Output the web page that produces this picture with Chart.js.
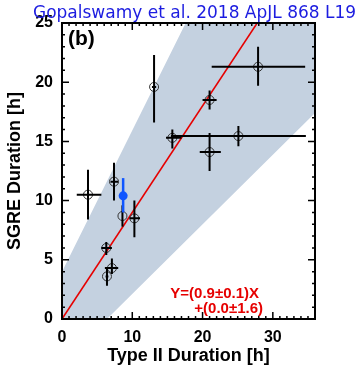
<!DOCTYPE html>
<html>
<head>
<meta charset="utf-8">
<script src="https://cdn.jsdelivr.net/npm/chart.js@4/dist/chart.umd.min.js"></script>
<style>
  html, body { margin: 0; padding: 0; background: #fff; }
  #wrap { width: 361px; height: 367px; position: relative; }
</style>
</head>
<body>
<div id="wrap"><canvas id="grafica"></canvas></div>
<script>
// data (hours)
const typeII = [3.7, 7.4, 8.6, 10.3, 6.3, 7.1, 6.4, 13.1, 15.7, 25.1, 21.0, 21.0, 27.9];
const sgre   = [10.5, 11.6, 8.7, 8.5, 6.0, 4.3, 3.6, 19.6, 15.3, 15.45, 18.5, 14.1, 21.3];
const typeIILow  = [2.1, 6.9, 8.6, 9.6, 5.6, 6.1, 6.2, 12.8, 14.8, 15.5, 20.0, 19.6, 21.3];
const typeIIHigh = [5.6, 8.0, 8.6, 11.1, 7.1, 8.0, 6.6, 13.4, 17.0, 34.7, 22.0, 22.6, 34.6];
const sgreLow  = [8.4, 10.0, 7.8, 6.9, 5.4, 3.8, 2.8, 16.6, 14.4, 14.6, 17.7, 12.5, 19.7];
const sgreHigh = [12.6, 13.2, 9.6, 10.0, 6.5, 5.1, 4.4, 22.3, 16.0, 16.3, 19.3, 15.7, 23.0];

// highlighted event
const blueX = [8.7];
const blueY = [10.4];
const blueLow = [9.0];
const blueHigh = [11.9];

// fit Y = 0.9 X + 0.0
const fitX = [0, 36];
const fitY = [0, 32.4];

// shaded band outline
const bandX = [0, 0, 17.6, 36, 36, 6.4];
const bandY = [0, 4.0, 25, 25, 17.4, 0];

const xTicks = [0, 10, 20, 30];
const yTicks = [0, 5, 10, 15, 20, 25];

const COLORES = {
  banda: "rgb(196,209,224)",
  rojo: "#e60000",
  azul: "#0f55ff",
  titulo: "#1c1ce0",
  gris: "#333333"
};

const toPts = (xs, ys) => xs.map((v, i) => ({ x: v, y: ys[i] }));

// error bars drawn through the scales
const errorBars = {
  id: "errorBars",
  afterDatasetsDraw(chart) {
    const { ctx, scales: { x, y } } = chart;
    ctx.save();
    ctx.lineCap = "butt";
    ctx.strokeStyle = "#000";
    ctx.lineWidth = 2;
    typeII.forEach((v, i) => {
      const px = x.getPixelForValue(v), py = y.getPixelForValue(sgre[i]);
      ctx.beginPath();
      ctx.moveTo(x.getPixelForValue(typeIILow[i]), py);
      ctx.lineTo(x.getPixelForValue(typeIIHigh[i]), py);
      ctx.moveTo(px, y.getPixelForValue(sgreLow[i]));
      ctx.lineTo(px, y.getPixelForValue(sgreHigh[i]));
      ctx.stroke();
    });
    ctx.strokeStyle = COLORES.azul;
    ctx.lineWidth = 2.5;
    blueX.forEach((v, i) => {
      const px = x.getPixelForValue(v);
      ctx.beginPath();
      ctx.moveTo(px, y.getPixelForValue(blueLow[i]));
      ctx.lineTo(px, y.getPixelForValue(blueHigh[i]));
      ctx.stroke();
      ctx.fillStyle = COLORES.azul;
      ctx.beginPath();
      ctx.arc(px, y.getPixelForValue(blueY[i]), 4.5, 0, Math.PI * 2);
      ctx.fill();
    });
    ctx.restore();
  }
};

// IDL style box with inward ticks + labels
const marco = {
  id: "marco",
  afterDraw(chart) {
    const { ctx, chartArea: a, scales: { x, y } } = chart;
    ctx.save();
    ctx.strokeStyle = "#000";
    ctx.lineWidth = 1.5;
    ctx.beginPath();
    for (let v = 0; v <= x.max; v++) {
      const px = x.getPixelForValue(v);
      const len = v % 10 === 0 ? 7 : 3;
      ctx.moveTo(px, a.bottom); ctx.lineTo(px, a.bottom - len);
      ctx.moveTo(px, a.top); ctx.lineTo(px, a.top + len);
    }
    for (let v = 0; v <= y.max; v++) {
      const py = y.getPixelForValue(v);
      const len = v % 5 === 0 ? 7 : 3;
      ctx.moveTo(a.left, py); ctx.lineTo(a.left + len, py);
      ctx.moveTo(a.right, py); ctx.lineTo(a.right - len, py);
    }
    ctx.stroke();
    ctx.lineWidth = 2;
    ctx.strokeRect(a.left, a.top, a.right - a.left, a.bottom - a.top);

    // texts
    ctx.textBaseline = "alphabetic";
    ctx.fillStyle = COLORES.titulo;
    ctx.font = "17px 'DejaVu Sans'";
    ctx.textAlign = "left";
    ctx.fillText("Gopalswamy et al. 2018 ApJL 868 L19", 33, 18);

    ctx.fillStyle = "#000";
    ctx.font = "bold 21px 'Liberation Sans'";
    ctx.fillText("(b)", 68, 45);

    ctx.fillStyle = COLORES.rojo;
    ctx.font = "bold 15px 'Liberation Sans'";
    ctx.textAlign = "right";
    ctx.fillText("Y=(0.9\u00b10.1)X", 259, 298);
    ctx.fillText("+(0.0\u00b11.6)", 263, 313);
    ctx.restore();
  }
};

new Chart(document.getElementById("grafica"), {
  type: "scatter",
  data: {
    datasets: [
      {
        data: toPts(bandX, bandY),
        showLine: true,
        fill: "shape",
        backgroundColor: COLORES.banda,
        borderWidth: 0,
        pointRadius: 0,
        tension: 0,
        order: 5
      },
      {
        data: toPts(fitX, fitY),
        showLine: true,
        borderColor: COLORES.rojo,
        borderWidth: 1.6,
        pointRadius: 0,
        fill: false,
        order: 4
      },
      {
        data: toPts(typeII, sgre),
        pointRadius: 4.5,
        pointBorderWidth: 1,
        pointBorderColor: COLORES.gris,
        pointBackgroundColor: "rgba(0,0,0,0)",
        order: 1
      }
    ]
  },
  options: {
    responsive: true,
    maintainAspectRatio: false,
    animation: false,
    events: [],
    layout: { padding: { top: 23, right: 46, left: 0, bottom: 0 } },
    plugins: {
      legend: { display: false },
      tooltip: { enabled: false }
    },
    scales: {
      x: {
        type: "linear",
        min: 0,
        max: 36,
        afterBuildTicks: s => { s.ticks = xTicks.map(v => ({ value: v })); },
        afterFit: s => { s.height = 48; },
        grid: { display: false, drawTicks: false },
        border: { display: false },
        ticks: { color: "#000", padding: 9, font: { family: "'Liberation Sans'", weight: "bold", size: 16 } },
        title: {
          display: true,
          text: "Type II Duration [h]",
          color: "#000",
          padding: 0,
          font: { family: "'Liberation Sans'", weight: "bold", size: 18 }
        }
      },
      y: {
        type: "linear",
        min: 0,
        max: 25,
        afterBuildTicks: s => { s.ticks = yTicks.map(v => ({ value: v })); },
        afterFit: s => { s.width = 62; },
        grid: { display: false, drawTicks: false },
        border: { display: false },
        ticks: { color: "#000", padding: 9, font: { family: "'Liberation Sans'", weight: "bold", size: 16 } },
        title: {
          display: true,
          text: "SGRE Duration [h]",
          color: "#000",
          padding: 4,
          font: { family: "'Liberation Sans'", weight: "bold", size: 18 }
        }
      }
    }
  },
  plugins: [errorBars, marco]
});
</script>
</body>
</html>
